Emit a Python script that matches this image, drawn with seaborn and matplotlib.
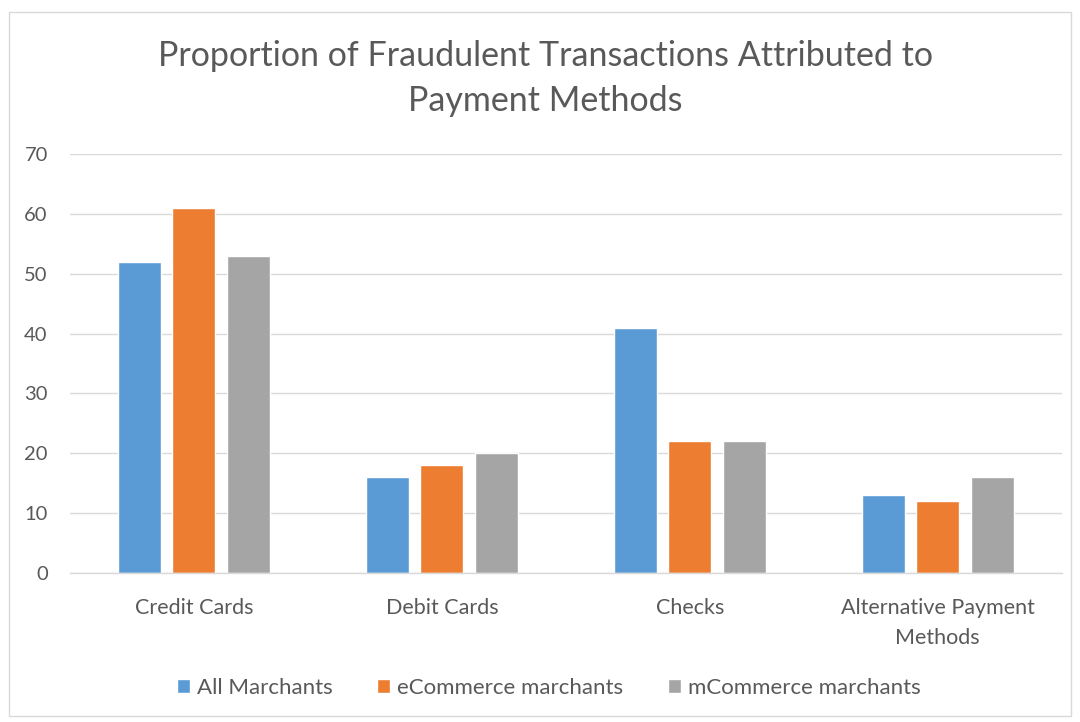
import matplotlib
matplotlib.use("Agg")
import matplotlib.pyplot as plt
import seaborn as sns
import pandas as pd
from matplotlib.patches import Rectangle

categories = ["Credit Cards", "Debit Cards", "Checks", "Alternative Payment\nMethods"]
series_names = ["All Marchants", "eCommerce marchants", "mCommerce marchants"]
all_merchants = [52, 16, 41, 13]
ecommerce = [61, 18, 22, 12]
mcommerce = [53, 20, 22, 16]
y_ticks = [0, 10, 20, 30, 40, 50, 60, 70]
colors = ["#5B9BD5", "#ED7D31", "#A5A5A5"]
title = "Proportion of Fraudulent Transactions Attributed to\nPayment Methods"

rows = []
for name, vals in zip(series_names, [all_merchants, ecommerce, mcommerce]):
    for c, v in zip(categories, vals):
        rows.append({"Category": c, "Series": name, "Value": v})
df = pd.DataFrame(rows)

sns.set_theme(style="white")
plt.rcParams["font.family"] = ["Lato", "DejaVu Sans"]

fig = plt.figure(figsize=(10.8, 7.22), dpi=100)
ax = fig.add_axes([0.0648, 0.2064, 0.9182, 0.5803])

sns.barplot(data=df, x="Category", y="Value", hue="Series", order=categories,
            hue_order=series_names, palette=colors, width=0.66, gap=0.21,
            saturation=1, ax=ax, legend=True)

ax.set_ylim(0, 70)
ax.set_xlim(-0.5, 3.5)
ax.set_yticks(y_ticks)
ax.set_yticklabels([str(t) for t in y_ticks])
ax.yaxis.grid(True, color="#D9D9D9", linewidth=1)
ax.set_axisbelow(True)
for s in ["top", "right", "left"]:
    ax.spines[s].set_visible(False)
ax.spines["bottom"].set_color("#D9D9D9")
ax.spines["bottom"].set_linewidth(1)
ax.tick_params(axis="both", length=0, colors="#595959")
ax.tick_params(axis="x", pad=18, labelsize=15.5)
ax.tick_params(axis="y", pad=16, labelsize=14.5)
ax.set_xlabel("")
ax.set_ylabel("")
for lbl in ax.get_xticklabels():
    lbl.set_linespacing(1.6)

handles, labels = ax.get_legend_handles_labels()
ax.legend_.remove()
fig.legend(handles, labels, loc="center", bbox_to_anchor=(0.508, 0.047), ncol=3,
           frameon=False, fontsize=16, handlelength=0.6, handleheight=0.6,
           handletextpad=0.3, columnspacing=2.0, labelcolor="#595959")

fig.text(0.505, 0.891, title, ha="center", va="center", fontsize=24.5,
         color="#595959", linespacing=1.5)

fig.patches.append(Rectangle((0.008, 0.008), 0.984, 0.975, transform=fig.transFigure,
                             fill=False, edgecolor="#D9D9D9", linewidth=1))

fig.savefig("out.png", dpi=100)
